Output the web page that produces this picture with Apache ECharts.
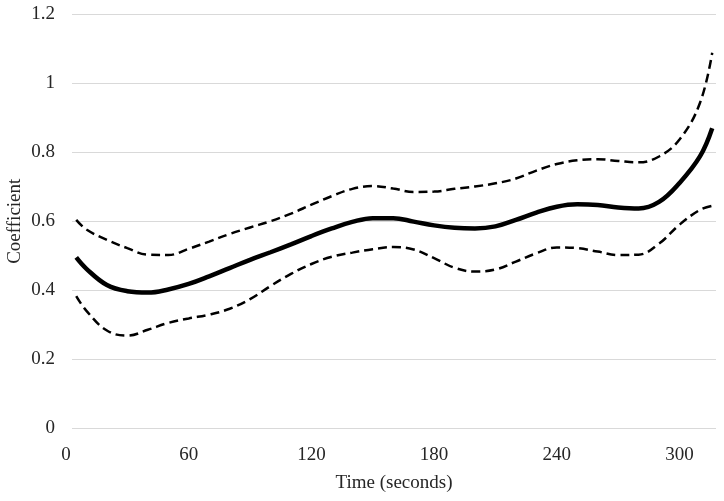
<!DOCTYPE html>
<html>
<head>
<meta charset="utf-8">
<script src="https://cdn.jsdelivr.net/npm/echarts@6/dist/echarts.min.js"></script>
<style>html,body{margin:0;padding:0;background:#fff;}#chart{width:724px;height:501px;}</style>
</head>
<body>
<div id="chart"></div>
<script>
const timeSeconds = [5, 10, 20, 30, 40, 50, 60, 70, 80, 90, 100, 110, 120, 130, 140, 150, 160, 170, 180, 190, 200, 210, 220, 230, 240, 250, 260, 270, 280, 290, 300, 310, 316];
const coefficient = [0.495, 0.462, 0.415, 0.397, 0.393, 0.402, 0.418, 0.440, 0.464, 0.488, 0.510, 0.533, 0.557, 0.579, 0.598, 0.609, 0.609, 0.599, 0.588, 0.581, 0.579, 0.585, 0.604, 0.625, 0.642, 0.649, 0.647, 0.640, 0.637, 0.656, 0.711, 0.788, 0.870];
const upperBound = [0.604, 0.576, 0.546, 0.522, 0.503, 0.502, 0.520, 0.541, 0.563, 0.582, 0.600, 0.622, 0.648, 0.673, 0.694, 0.702, 0.695, 0.685, 0.686, 0.694, 0.701, 0.710, 0.724, 0.747, 0.766, 0.777, 0.780, 0.775, 0.771, 0.788, 0.837, 0.943, 1.089];
const lowerBound = [0.383, 0.340, 0.283, 0.268, 0.285, 0.305, 0.318, 0.329, 0.346, 0.374, 0.412, 0.447, 0.476, 0.497, 0.509, 0.519, 0.525, 0.518, 0.493, 0.465, 0.454, 0.460, 0.483, 0.507, 0.524, 0.522, 0.512, 0.502, 0.503, 0.535, 0.590, 0.633, 0.645];
const xTickInterval = 60;
const yTickInterval = 0.2;
const yMax = 1.2;

const font = 'Liberation Serif';
const textColor = '#262626';
const pairs = (ys) => timeSeconds.map((t, i) => [t, ys[i]]);

const chart = echarts.init(document.getElementById('chart'), null, {renderer: 'canvas'});
chart.setOption({
  animation: false,
  backgroundColor: '#fff',
  grid: [
    {left: 72, right: 8, top: 14.5, bottom: 73, outerBoundsMode: 'none', containLabel: false},
    {left: 66, right: 8, top: 14.5, bottom: 73, outerBoundsMode: 'none', containLabel: false}
  ],
  xAxis: [
    {
      gridIndex: 0, type: 'value', min: 2.93, max: 317.85,
      axisLine: {show: false}, axisTick: {show: false}, axisLabel: {show: false}, splitLine: {show: false},
      name: 'Time (seconds)', nameLocation: 'middle', nameGap: 46, nameMoveOverlap: false,
      nameTextStyle: {fontFamily: font, fontSize: 19, color: textColor}
    },
    {
      gridIndex: 1, type: 'value', min: 0, max: 317.85, interval: xTickInterval,
      axisLine: {show: false}, axisTick: {show: false}, splitLine: {show: false},
      axisLabel: {fontFamily: font, fontSize: 19, color: textColor, margin: 18, showMaxLabel: false}
    }
  ],
  yAxis: [
    {
      gridIndex: 0, type: 'value', min: 0, max: yMax, interval: yTickInterval,
      axisLine: {show: false}, axisTick: {show: false},
      splitLine: {lineStyle: {color: '#d9d9d9', width: 1}},
      axisLabel: {fontFamily: font, fontSize: 19, color: textColor, margin: 17,
        formatter: (v) => String(parseFloat(v.toFixed(1)))},
      name: 'Coefficient', nameLocation: 'middle', nameGap: 47, nameMoveOverlap: false,
      nameTextStyle: {fontFamily: font, fontSize: 19, color: textColor}
    },
    {gridIndex: 1, type: 'value', min: 0, max: 1, show: false}
  ],
  series: [
    {
      type: 'line', xAxisIndex: 0, yAxisIndex: 0, data: pairs(upperBound),
      smooth: 0.4, showSymbol: false, symbol: 'none',
      lineStyle: {color: '#000', width: 2.5, type: [9, 5]}
    },
    {
      type: 'line', xAxisIndex: 0, yAxisIndex: 0, data: pairs(lowerBound),
      smooth: 0.4, showSymbol: false, symbol: 'none',
      lineStyle: {color: '#000', width: 2.5, type: [9, 5]}
    },
    {
      type: 'line', xAxisIndex: 0, yAxisIndex: 0, data: pairs(coefficient),
      smooth: 0.4, showSymbol: false, symbol: 'none',
      lineStyle: {color: '#000', width: 4.5}
    }
  ]
});
</script>
</body>
</html>
